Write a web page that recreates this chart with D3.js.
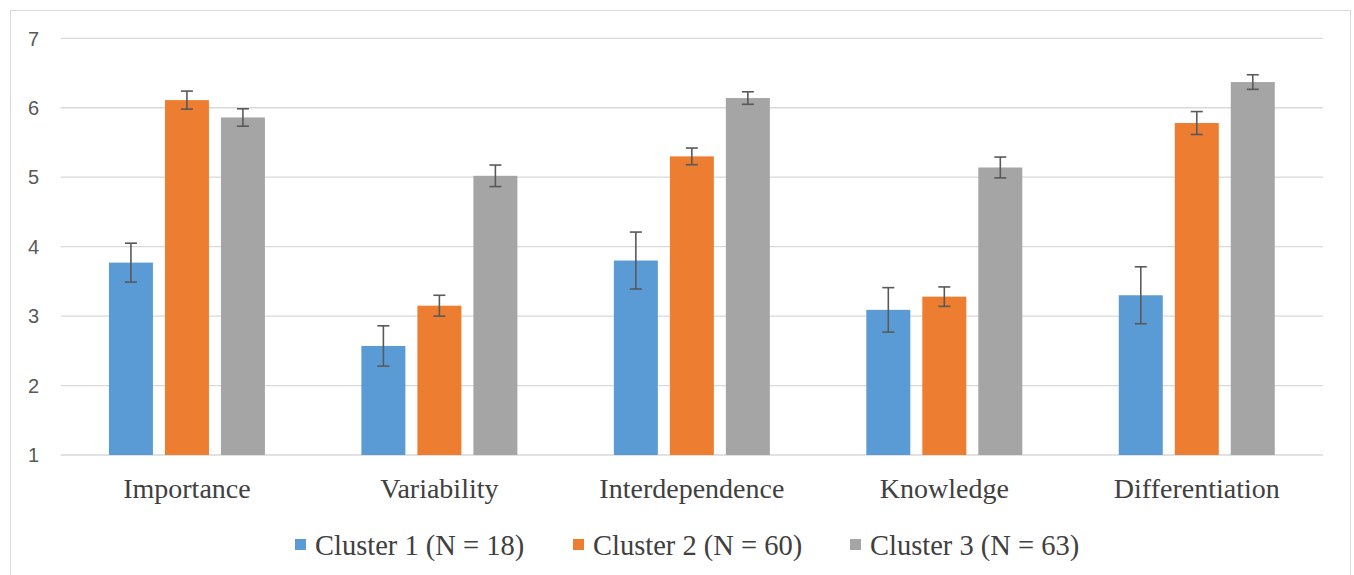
<!DOCTYPE html>
<html>
<head>
<meta charset="utf-8">
<script src="https://cdn.jsdelivr.net/npm/d3@7"></script>
<style>
  html, body { margin: 0; padding: 0; background: #fff; }
</style>
</head>
<body>
<div id="chart"></div>
<script>
// Mean ratings per cluster, with error bars (± half-length)
const categories = ["Importance", "Variability", "Interdependence", "Knowledge", "Differentiation"];
const seriesNames = ["Cluster 1 (N = 18)", "Cluster 2 (N = 60)", "Cluster 3 (N = 63)"];
const cluster1Means = [3.77, 2.57, 3.80, 3.09, 3.30];
const cluster1Errors = [0.28, 0.29, 0.41, 0.32, 0.41];
const cluster2Means = [6.11, 3.15, 5.30, 3.28, 5.78];
const cluster2Errors = [0.13, 0.15, 0.12, 0.14, 0.165];
const cluster3Means = [5.86, 5.02, 6.14, 5.14, 6.37];
const cluster3Errors = [0.125, 0.155, 0.09, 0.15, 0.105];
const yTicks = [1, 2, 3, 4, 5, 6, 7];
const colors = ["#5B9BD5", "#ED7D31", "#A5A5A5"];

const width = 1354, height = 575;
const plot = {left: 60.7, right: 1323, top: 38.3, bottom: 455};

const means = [cluster1Means, cluster2Means, cluster3Means];
const errors = [cluster1Errors, cluster2Errors, cluster3Errors];
const rows = [];
categories.forEach((c, i) => {
  seriesNames.forEach((s, j) => {
    rows.push({category: c, series: s, idx: j, mean: means[j][i], err: errors[j][i]});
  });
});

const svg = d3.select("#chart").append("svg")
  .attr("width", width).attr("height", height)
  .attr("viewBox", [0, 0, width, height]);

// chart area frame
svg.append("rect")
  .attr("x", 10.5).attr("y", 10.5)
  .attr("width", 1340).attr("height", 580)
  .attr("fill", "#fff").attr("stroke", "#D9D9D9").attr("stroke-width", 1);

const x = d3.scaleBand().domain(categories).range([plot.left, plot.right]).padding(0);
const y = d3.scaleLinear().domain([1, 7]).range([plot.bottom, plot.top]);

const groupW = 156;
const xSub = d3.scaleBand().domain(seriesNames)
  .range([0, groupW]).paddingInner(12 / 56).paddingOuter(0);
const offset = (x.bandwidth() - groupW) / 2;

// gridlines
svg.append("g")
  .selectAll("line").data(yTicks).join("line")
  .attr("x1", plot.left).attr("x2", plot.right)
  .attr("y1", d => y(d)).attr("y2", d => y(d))
  .attr("stroke", "#D9D9D9").attr("stroke-width", 1.3);

// y tick labels
svg.append("g")
  .selectAll("text").data(yTicks).join("text")
  .attr("x", 39).attr("y", d => y(d))
  .attr("dy", "0.36em")
  .attr("text-anchor", "end")
  .attr("font-family", "'Liberation Sans', Arial, sans-serif")
  .attr("font-size", 20).attr("fill", "#595959")
  .text(d => d);

// bars
svg.append("g")
  .selectAll("rect").data(rows).join("rect")
  .attr("x", d => x(d.category) + offset + xSub(d.series))
  .attr("y", d => y(d.mean))
  .attr("width", xSub.bandwidth())
  .attr("height", d => y(1) - y(d.mean))
  .attr("fill", d => colors[d.idx]);

// error bars
const eb = svg.append("g").attr("stroke", "#595959").attr("stroke-width", 1.6).attr("fill", "none");
const cx = d => x(d.category) + offset + xSub(d.series) + xSub.bandwidth() / 2;
eb.selectAll("line.v").data(rows).join("line").attr("class", "v")
  .attr("x1", cx).attr("x2", cx)
  .attr("y1", d => y(d.mean + d.err)).attr("y2", d => y(d.mean - d.err));
eb.selectAll("line.t").data(rows).join("line").attr("class", "t")
  .attr("x1", d => cx(d) - 6).attr("x2", d => cx(d) + 6)
  .attr("y1", d => y(d.mean + d.err)).attr("y2", d => y(d.mean + d.err));
eb.selectAll("line.b").data(rows).join("line").attr("class", "b")
  .attr("x1", d => cx(d) - 6).attr("x2", d => cx(d) + 6)
  .attr("y1", d => y(d.mean - d.err)).attr("y2", d => y(d.mean - d.err));

// category labels
svg.append("g")
  .selectAll("text").data(categories).join("text")
  .attr("x", d => x(d) + x.bandwidth() / 2)
  .attr("y", 498)
  .attr("text-anchor", "middle")
  .attr("font-family", "'Liberation Serif', 'Times New Roman', serif")
  .attr("font-size", 28).attr("fill", "#404040")
  .text(d => d);

// legend
const legendX = [295, 573, 850];
const legend = svg.append("g");
seriesNames.forEach((s, j) => {
  legend.append("rect")
    .attr("x", legendX[j]).attr("y", 539)
    .attr("width", 11).attr("height", 11)
    .attr("fill", colors[j]);
  legend.append("text")
    .attr("x", legendX[j] + 20).attr("y", 555)
    .attr("font-family", "'Liberation Serif', 'Times New Roman', serif")
    .attr("font-size", 28.5).attr("fill", "#404040")
    .text(s);
});
</script>
</body>
</html>
